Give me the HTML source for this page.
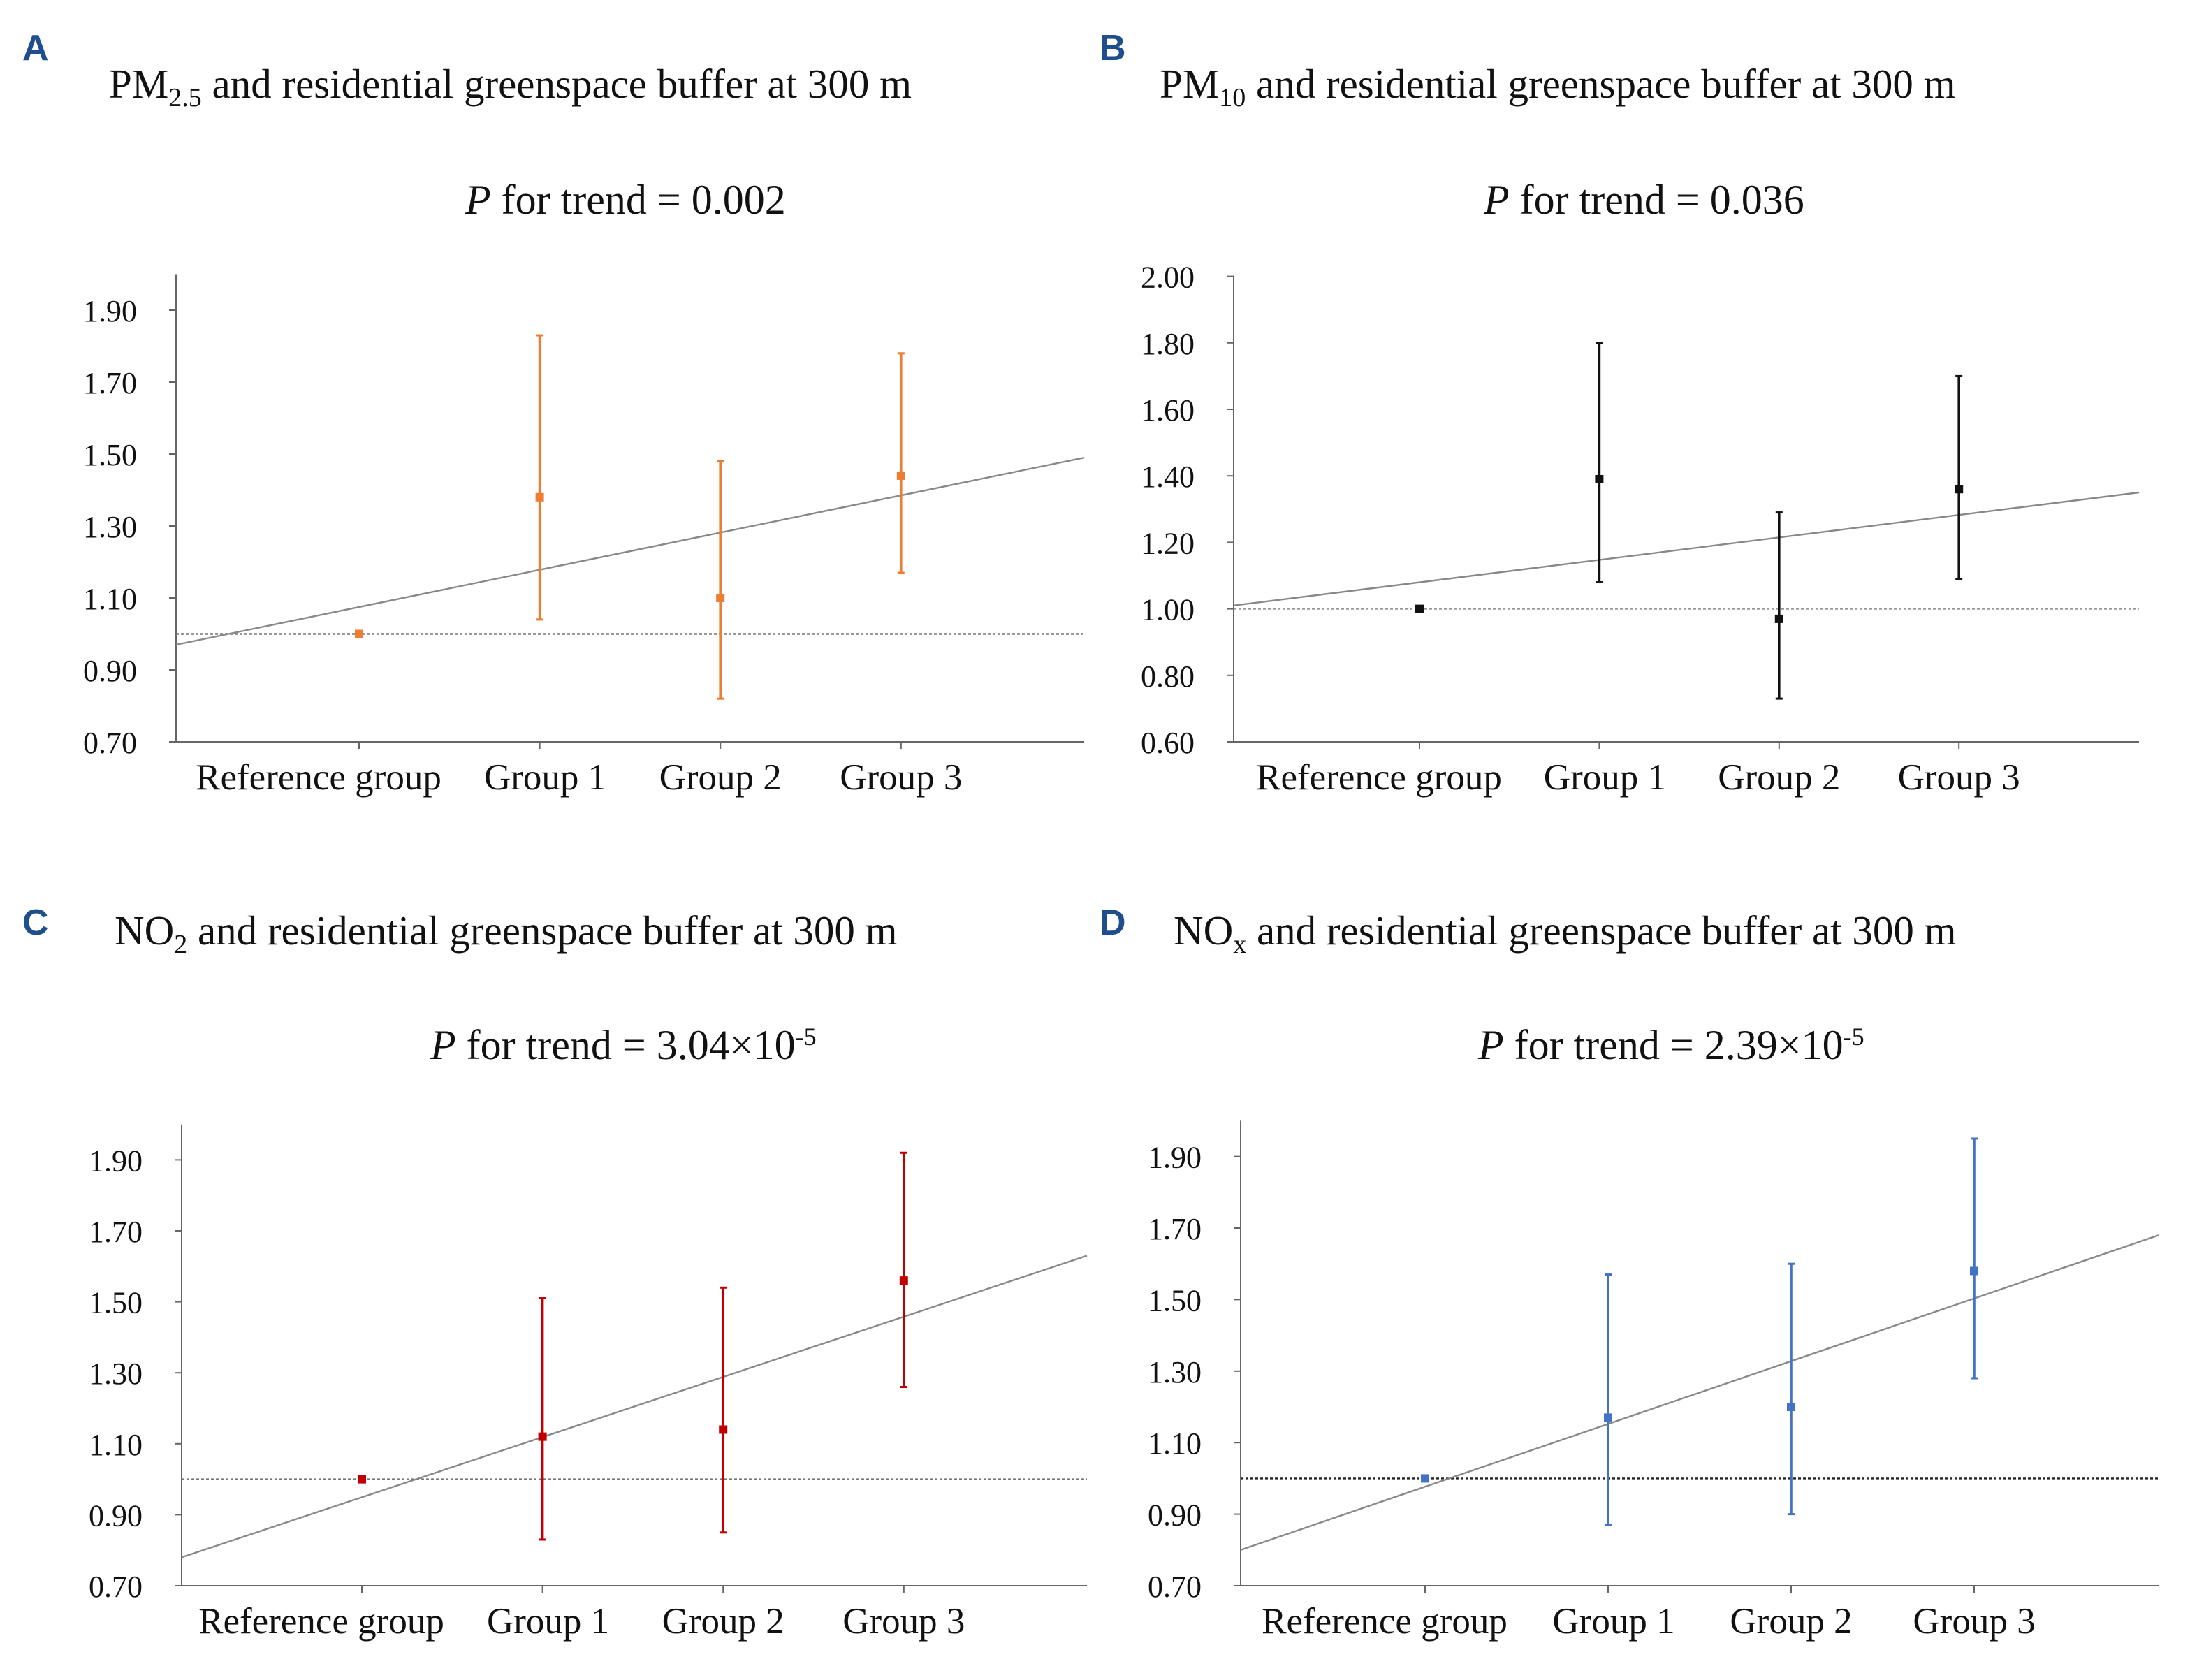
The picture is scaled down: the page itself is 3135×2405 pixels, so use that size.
<!DOCTYPE html>
<html><head><meta charset="utf-8"><style>
html,body{margin:0;padding:0;background:#fff;}
svg{display:block;}
text{font-family:"Liberation Serif",serif;fill:#111;}
.lbl{font-family:"Liberation Sans",sans-serif;font-weight:bold;fill:#1f4e8c;}
</style></head><body>
<svg id="chart" width="3135" height="2405" viewBox="0 0 1567.5 1202.5" xmlns="http://www.w3.org/2000/svg">
<g>
<text class="lbl" x="16" y="43" font-size="26">A</text>
<text x="78" y="70" font-size="29.5">PM<tspan font-size="19" dy="6">2.5</tspan><tspan dy="-6"> and residential greenspace buffer at 300 m</tspan></text>
<text x="333" y="153" font-size="30"><tspan font-style="italic">P</tspan> for trend =  0.002</text>
</g>
<g>
<text class="lbl" x="787" y="43" font-size="26">B</text>
<text x="830" y="70" font-size="29.5">PM<tspan font-size="19" dy="6">10</tspan><tspan dy="-6"> and residential greenspace buffer at 300 m</tspan></text>
<text x="1062" y="153" font-size="30"><tspan font-style="italic">P</tspan> for trend =  0.036</text>
</g>
<g>
<text class="lbl" x="16" y="669" font-size="26">C</text>
<text x="82" y="676" font-size="29.5">NO<tspan font-size="19" dy="6">2</tspan><tspan dy="-6"> and residential greenspace buffer at 300 m</tspan></text>
<text x="308" y="758" font-size="30"><tspan font-style="italic">P</tspan> for trend = 3.04×10<tspan font-size="18" dy="-10">-5</tspan></text>
</g>
<g>
<text class="lbl" x="787" y="669" font-size="26">D</text>
<text x="840" y="676" font-size="29.5">NO<tspan font-size="19" dy="6">x</tspan><tspan dy="-6"> and residential greenspace buffer at 300 m</tspan></text>
<text x="1058" y="758" font-size="30"><tspan font-style="italic">P</tspan> for trend =  2.39×10<tspan font-size="18" dy="-10">-5</tspan></text>
</g>
</svg>
<script>
const categories = ["Reference group","Group 1","Group 2","Group 3"];
const aEst = [1.00,1.38,1.10,1.44], aLo = [1.00,1.04,0.82,1.17], aHi = [1.00,1.83,1.48,1.78];
const aTicks = ["0.70","0.90","1.10","1.30","1.50","1.70","1.90"];
const aTrend = [0.97,1.49];
const bEst = [1.00,1.39,0.97,1.36], bLo = [1.00,1.08,0.73,1.09], bHi = [1.00,1.80,1.29,1.70];
const bTicks = ["0.60","0.80","1.00","1.20","1.40","1.60","1.80","2.00"];
const bTrend = [1.01,1.35];
const cEst = [1.00,1.12,1.14,1.56], cLo = [1.00,0.83,0.85,1.26], cHi = [1.00,1.51,1.54,1.92];
const cTicks = ["0.70","0.90","1.10","1.30","1.50","1.70","1.90"];
const cTrend = [0.78,1.63];
const dEst = [1.00,1.17,1.20,1.58], dLo = [1.00,0.87,0.90,1.28], dHi = [1.00,1.57,1.60,1.95];
const dTicks = ["0.70","0.90","1.10","1.30","1.50","1.70","1.90"];
const dTrend = [0.80,1.68];

const NS="http://www.w3.org/2000/svg";
const svg=document.getElementById('chart');
function mk(tag,attrs,parent){const e=document.createElementNS(NS,tag);for(const k in attrs)e.setAttribute(k,attrs[k]);parent.appendChild(e);return e;}

function panel(id,cfg,est,lo,hi,ticks,trend){
  const g=mk('g',{},svg);
  
  
  const y=v=>cfg.y0-(v-cfg.vmin)*cfg.ppu;
  const x=i=>cfg.xc0+i*cfg.step;
  const ya=mk('line',{x1:cfg.xl,x2:cfg.xl,y1:y(cfg.vmax),y2:cfg.y0,stroke:'#666','stroke-width':1},g);
  
  
  const xa=mk('line',{x1:cfg.xl,x2:cfg.xr,y1:cfg.y0,y2:cfg.y0,stroke:'#666','stroke-width':1},g);
  
  
  ticks.forEach(t=>{
    const v=parseFloat(t);
    mk('line',{x1:cfg.xl-5,x2:cfg.xl,y1:y(v),y2:y(v),stroke:'#666'},g);
    const tx=mk('text',{x:cfg.xl-28,y:y(v)+8,'font-size':22,'text-anchor':'end'},g);
    tx.textContent=t;
    
    
  });
  categories.forEach((c,i)=>{
    mk('line',{x1:x(i),x2:x(i),y1:cfg.y0,y2:cfg.y0+5,stroke:'#666'},g);
    const dx = i===0 ? -29 : (i===1?4:0);
    const tx=mk('text',{x:x(i)+dx,y:cfg.y0+34,'font-size':26.5,'text-anchor':'middle'},g);
    tx.textContent=c;
    
    
  });
  const rl=mk('line',{x1:cfg.xl,x2:cfg.xr,y1:y(1),y2:y(1),stroke:cfg.refColor,'stroke-width':1.2,'stroke-dasharray':'2,1.5'},g);
  
  
  const tl=mk('line',{x1:cfg.xl,x2:cfg.xr,y1:y(trend[0]),y2:y(trend[1]),stroke:'#888','stroke-width':1.2},g);
  
  
  est.forEach((v,i)=>{
    const eb=mk('g',{},g);
    
    
    if(hi[i]!==lo[i]){
      mk('line',{x1:x(i),x2:x(i),y1:y(hi[i]),y2:y(lo[i]),stroke:cfg.color,'stroke-width':1.8},eb);
      mk('line',{x1:x(i)-2.5,x2:x(i)+2.5,y1:y(hi[i]),y2:y(hi[i]),stroke:cfg.color,'stroke-width':1.5},eb);
      mk('line',{x1:x(i)-2.5,x2:x(i)+2.5,y1:y(lo[i]),y2:y(lo[i]),stroke:cfg.color,'stroke-width':1.5},eb);
    }
    mk('rect',{x:x(i)-3,y:y(v)-3,width:6,height:6,fill:cfg.color},eb);
  });
}
panel('panel-a',{xl:126,xr:776,y0:531,vmin:0.7,vmax:2.0,ppu:257.5,xc0:257,step:129.3,color:'#ED7D31',refColor:'#777'},aEst,aLo,aHi,aTicks,aTrend);
panel('panel-b',{xl:883,xr:1531,y0:531,vmin:0.6,vmax:2.0,ppu:238,xc0:1016,step:128.7,color:'#111',refColor:'#999'},bEst,bLo,bHi,bTicks,bTrend);
panel('panel-c',{xl:130,xr:778,y0:1135,vmin:0.7,vmax:2.0,ppu:254,xc0:259,step:129.3,color:'#C00000',refColor:'#777'},cEst,cLo,cHi,cTicks,cTrend);
panel('panel-d',{xl:888,xr:1545,y0:1135,vmin:0.7,vmax:2.0,ppu:256,xc0:1020,step:131,color:'#4472C4',refColor:'#222'},dEst,dLo,dHi,dTicks,dTrend);
</script>
</body></html>
